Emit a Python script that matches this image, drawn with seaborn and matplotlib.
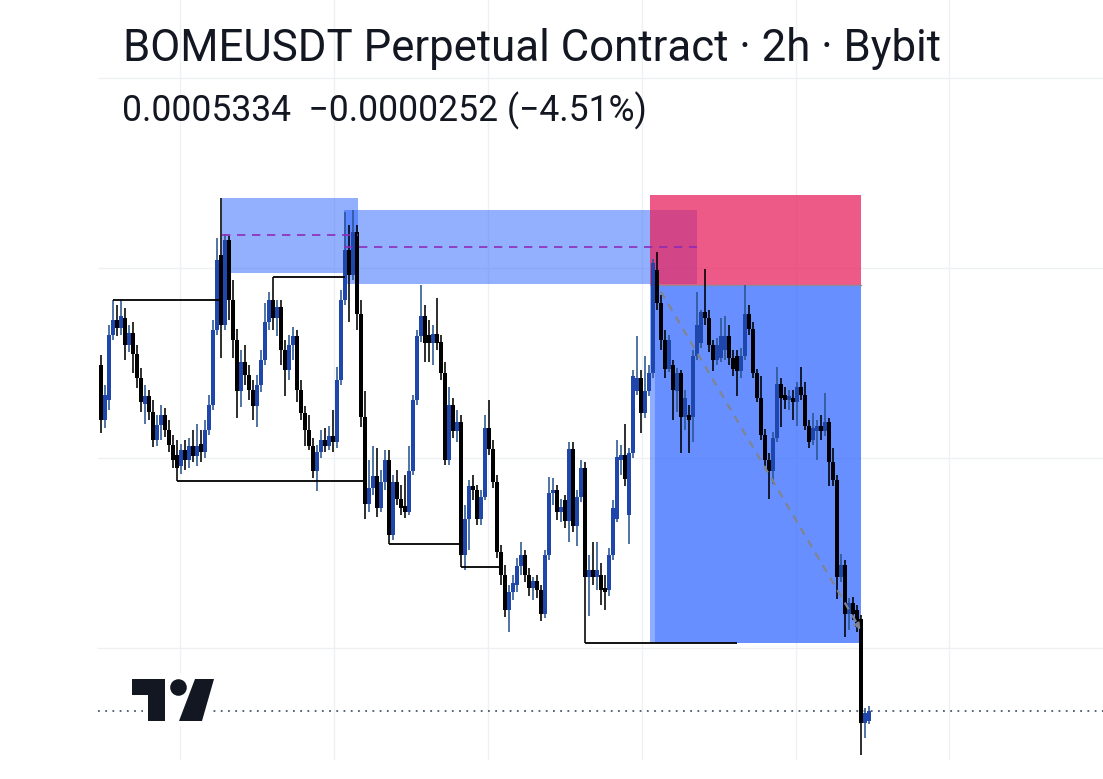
import matplotlib
matplotlib.use("Agg")
import matplotlib.pyplot as plt
import matplotlib.patches as mpatches
import seaborn as sns
import numpy as np
import pandas as pd

# BOMEUSDT 2h candles, prices in units of 1e-7 USDT
opens = [5698, 5640, 5661, 5729, 5745, 5737, 5747, 5719, 5732, 5709,
         5684, 5657, 5665, 5648, 5619, 5635, 5645, 5629, 5614, 5603,
         5591, 5608, 5598, 5613, 5602, 5615, 5606, 5629, 5656, 5735,
         5814, 5740, 5829, 5766, 5724, 5670, 5701, 5687, 5671, 5655,
         5677, 5703, 5743, 5766, 5747, 5759, 5714, 5693, 5719, 5728,
         5672, 5647, 5629, 5613, 5586, 5606, 5619, 5613, 5623, 5617,
         5682, 5766, 5819, 5793, 5838, 5751, 5643, 5552, 5568, 5581,
         5547, 5575, 5598, 5519, 5575, 5557, 5549, 5543, 5586, 5661,
         5728, 5749, 5729, 5721, 5730, 5722, 5689, 5598, 5656, 5628,
         5638, 5498, 5536, 5570, 5566, 5536, 5559, 5631, 5609, 5575,
         5501, 5477, 5440, 5459, 5466, 5486, 5498, 5477, 5463, 5470,
         5461, 5436, 5498, 5563, 5566, 5543, 5556, 5534, 5609, 5528,
         5559, 5589, 5475, 5482, 5475, 5477, 5463, 5461, 5498, 5536,
         5598, 5603, 5540, 5605, 5670, 5684, 5647, 5670, 5689, 5798,
         5763, 5724, 5694, 5698, 5670, 5689, 5643, 5645, 5643, 5707,
         5721, 5754, 5747, 5719, 5703, 5705, 5714, 5728, 5705, 5707,
         5691, 5707, 5751, 5736, 5689, 5663, 5624, 5598, 5586, 5621,
         5678, 5666, 5661,
         5663, 5659, 5675, 5666, 5634, 5619, 5628, 5634,
         5628, 5638, 5596, 5577, 5475, 5487, 5436, 5447, 5440, 5430, 5321, 5323]
highs = [5708, 5677, 5740, 5766, 5761, 5766, 5758, 5740, 5743, 5719,
         5695, 5677, 5671, 5661, 5645, 5656, 5653, 5640, 5624, 5619,
         5615, 5619, 5621, 5629, 5636, 5629, 5640, 5666, 5745, 5832,
         5874, 5836, 5834, 5787, 5736, 5714, 5719, 5698, 5682, 5687,
         5714, 5763, 5775, 5790, 5766, 5766, 5724, 5729, 5738, 5735,
         5682, 5655, 5645, 5621, 5614, 5629, 5632, 5634, 5650, 5696,
         5777, 5859, 5845, 5861, 5845, 5766, 5670, 5598, 5613, 5610,
         5587, 5608, 5608, 5582, 5587, 5571, 5582, 5613, 5666, 5735,
         5782, 5761, 5745, 5740, 5768, 5729, 5701, 5675, 5663, 5650,
         5645, 5550, 5577, 5582, 5571, 5566, 5645, 5661, 5619, 5582,
         5508, 5487, 5466, 5477, 5495, 5512, 5503, 5484, 5475, 5477,
         5466, 5503, 5580, 5579, 5571, 5557, 5561, 5617, 5617, 5566,
         5598, 5596, 5498, 5512, 5511, 5489, 5477, 5505, 5556, 5619,
         5614, 5636, 5610, 5693, 5728, 5693, 5707, 5698, 5809, 5817,
         5771, 5735, 5729, 5703, 5695, 5693, 5671, 5656, 5714, 5775,
         5756, 5799, 5756, 5724, 5726, 5747, 5749, 5740, 5714, 5714,
         5716, 5782, 5761, 5743, 5694, 5686, 5630, 5605, 5627, 5696,
         5684, 5675, 5671,
         5671, 5680, 5696, 5680, 5640, 5647, 5640, 5645,
         5668, 5642, 5610, 5582, 5499, 5493, 5453, 5454, 5445, 5435, 5337, 5339]
lows = [5626, 5632, 5650, 5724, 5728, 5729, 5703, 5711, 5689, 5674,
        5648, 5636, 5640, 5611, 5613, 5619, 5622, 5606, 5589, 5576,
        5583, 5587, 5589, 5596, 5591, 5596, 5600, 5624, 5650, 5729,
        5705, 5735, 5745, 5705, 5642, 5654, 5677, 5661, 5640, 5633,
        5669, 5698, 5735, 5735, 5728, 5698, 5665, 5682, 5703, 5659,
        5640, 5613, 5608, 5579, 5565, 5600, 5606, 5608, 5606, 5610,
        5677, 5761, 5743, 5787, 5735, 5633, 5536, 5543, 5561, 5538,
        5543, 5566, 5509, 5514, 5550, 5540, 5537, 5540, 5582, 5656,
        5722, 5701, 5701, 5698, 5714, 5682, 5593, 5593, 5621, 5617,
        5485, 5482, 5503, 5556, 5529, 5529, 5556, 5603, 5568, 5495,
        5466, 5433, 5417, 5450, 5459, 5477, 5469, 5455, 5450, 5453,
        5428, 5432, 5493, 5550, 5535, 5533, 5526, 5512, 5522, 5507,
        5554, 5405, 5434, 5466, 5461, 5445, 5440, 5455, 5493, 5533,
        5582, 5570, 5509, 5600, 5666, 5626, 5642, 5665, 5684, 5756,
        5714, 5684, 5690, 5640, 5648, 5605, 5629, 5605, 5617, 5703,
        5716, 5740, 5711, 5691, 5698, 5701, 5703, 5698, 5686, 5665,
        5684, 5703, 5729, 5684, 5659, 5619, 5591, 5557, 5573, 5617,
        5633, 5652, 5650,
        5640, 5634, 5661, 5629, 5610, 5614, 5598, 5619,
        5623, 5570, 5570, 5452, 5469, 5411, 5419, 5429, 5417, 5287, 5305, 5320]
closes = [5640, 5666, 5729, 5745, 5737, 5749, 5719, 5732, 5709, 5684,
          5659, 5665, 5648, 5619, 5635, 5645, 5629, 5614, 5598, 5589,
          5608, 5598, 5613, 5602, 5613, 5606, 5629, 5656, 5735, 5808,
          5740, 5829, 5766, 5724, 5670, 5701, 5687, 5671, 5655, 5677,
          5703, 5743, 5766, 5747, 5759, 5714, 5693, 5719, 5728, 5672,
          5647, 5629, 5613, 5586, 5606, 5619, 5613, 5623, 5617, 5682,
          5766, 5819, 5793, 5838, 5751, 5643, 5552, 5568, 5581, 5547,
          5575, 5598, 5519, 5575, 5557, 5547, 5543, 5586, 5661, 5728,
          5749, 5721, 5721, 5730, 5721, 5689, 5598, 5656, 5628, 5638,
          5498, 5536, 5570, 5566, 5536, 5559, 5631, 5609, 5575, 5501,
          5477, 5440, 5459, 5468, 5486, 5498, 5477, 5463, 5470, 5461,
          5436, 5498, 5563, 5566, 5543, 5548, 5534, 5609, 5528, 5559,
          5589, 5475, 5482, 5475, 5482, 5461, 5459, 5498, 5547, 5601,
          5603, 5578, 5605, 5686, 5684, 5647, 5670, 5689, 5805, 5763,
          5724, 5694, 5724, 5672, 5689, 5643, 5663, 5640, 5707, 5740,
          5754, 5747, 5719, 5703, 5719, 5728, 5728, 5705, 5694, 5691,
          5707, 5751, 5736, 5689, 5663, 5624, 5598, 5586, 5621, 5678,
          5663, 5661, 5665,
          5659, 5675, 5666, 5634, 5617, 5632, 5634, 5628,
          5638, 5596, 5577, 5475, 5487, 5436, 5447, 5436, 5422, 5321, 5331, 5334]

# swing levels: bar where the level starts, bar where it is broken
swing_start = [3, 43, 19, 72, 90, 121]
swing_end = [30, 61, 66, 90, 100, 159]
swing_kind = ['high', 'high', 'low', 'low', 'low', 'low']

# order blocks (bars, price 1e-7)
ob_left = [30.25, 60.75]
ob_right = [64.25, 149.0]
ob_top = [5874, 5861]
ob_bottom = [5795, 5783]

# short position tool
pos_left, pos_right = 137.25, 190.0
pos_stop, pos_entry, pos_target = 5877, 5782, 5405
proj_from = (140, 5775)
proj_to = (190.2, 5417)

last_price = 5334
price_grid = [0.00054, 0.00056, 0.00058, 0.00060]
time_grid = [19.75, 58.25, 96.75, 135.25, 173.75, 212.0]

unit = 1e-7
df = pd.DataFrame({'open': opens, 'high': highs, 'low': lows, 'close': closes}) * unit
df['bar'] = np.arange(len(df))
df['up'] = df['close'] >= df['open']

sns.set_theme(style='white')
plt.rcParams['font.family'] = ['Roboto', 'DejaVu Sans']

W, H = 1103, 779
fig = plt.figure(figsize=(W / 100, H / 100), dpi=100)
fig.patch.set_facecolor('white')
ax = fig.add_axes([98 / W, (H - 760) / H, (W - 98) / W, 760 / H])
ax.set_facecolor('white')

# pixel layout of the time / price scales
bar_px, first_px = 4.0, 101
ax.set_xlim((98 - first_px) / bar_px, (W - first_px) / bar_px)
ax.set_ylim((6082 - 1.0526 * 760) * unit, 6082 * unit)

ax.set_yticks(price_grid)
ax.set_xticks(time_grid)
ax.grid(True, color='#eef0f3', lw=1.0, zorder=0)
ax.tick_params(length=0, labelleft=False, labelbottom=False)
sns.despine(ax=ax, left=True, bottom=True)

# order blocks + mid lines
blue = (41 / 255, 98 / 255, 1.0)
for l, r, t, b in zip(ob_left, ob_right, ob_top, ob_bottom):
    ax.add_patch(mpatches.Rectangle((l, b * unit), r - l, (t - b) * unit,
                                    facecolor=blue, alpha=0.5, lw=0, zorder=1))
for l, r, t, b in zip(ob_left, ob_right, ob_top, ob_bottom):
    ax.plot([l, r], [(t + b) / 2 * unit] * 2, color='#8e2bb8', lw=1.2,
            dashes=(5, 4), zorder=5)

# position tool
ax.add_patch(mpatches.Rectangle((pos_left, pos_entry * unit), pos_right - pos_left,
                                (pos_stop - pos_entry) * unit,
                                facecolor=(232 / 255, 35 / 255, 95 / 255), alpha=0.75,
                                lw=0, zorder=2))
ax.add_patch(mpatches.Rectangle((pos_left, pos_target * unit), 1.3,
                                (pos_entry - pos_target) * unit,
                                facecolor=blue, alpha=0.52, lw=0, zorder=2))
ax.add_patch(mpatches.Rectangle((pos_left + 1.3, pos_target * unit), pos_right - pos_left - 1.3,
                                (pos_entry - pos_target) * unit,
                                facecolor=blue, alpha=0.71, lw=0, zorder=2))
ax.plot([pos_left, pos_right], [pos_entry * unit] * 2, color='#8a8d99', lw=1.0, zorder=2.5)

# candles
up_body, up_wick, dn = '#1f46aa', '#2a5590', '#000000'
wick_col = np.where(df['up'], up_wick, dn)
body_col = np.where(df['up'], up_body, dn)
ax.vlines(df['bar'], df['low'], df['high'], colors=wick_col, lw=1.15, zorder=3)
body_lo = df[['open', 'close']].min(axis=1)
body_h = (df['close'] - df['open']).abs().clip(lower=1.6 * unit)
ax.bar(df['bar'], body_h, bottom=body_lo, width=0.8, color=body_col, lw=0, zorder=3.5)

# swing lines
for s, e, k in zip(swing_start, swing_end, swing_kind):
    lvl = df['high'][s] if k == 'high' else df['low'][s]
    ax.plot([s, e], [lvl, lvl], color='black', lw=1.3, zorder=4, solid_capstyle='butt')

# projected path
ax.plot([proj_from[0], proj_to[0] - 0.8],
        [proj_from[1] * unit, (proj_to[1] + 6) * unit],
        color='#80848f', lw=1.6, dashes=(3.5, 3), zorder=4)
ax.annotate('', xy=(proj_to[0], proj_to[1] * unit),
            xytext=(proj_to[0] - 1.2, (proj_to[1] + 8) * unit),
            arrowprops=dict(arrowstyle='-|>', color='#80848f', lw=1.0,
                            mutation_scale=10), zorder=4)

# last price line
ax.axhline(last_price * unit, color='#4c5a70', lw=1.3, dashes=(1, 3), zorder=4)

# header text
fig.text(123 / W, 1 - 61 / H, 'BOMEUSDT Perpetual Contract · 2h · Bybit',
         fontsize=31.5, color='#131722', va='baseline', ha='left')
fig.text(122 / W, 1 - 121 / H, '0.0005334  \u22120.0000252 (\u22124.51%)',
         fontsize=25.6, color='#131722', va='baseline', ha='left')

# TradingView logo
lx = fig.add_axes([0, 0, 1, 1], facecolor='none')
lx.set_xlim(0, W)
lx.set_ylim(H, 0)
lx.axis('off')
lx.add_patch(mpatches.Rectangle((143, 673), 67, 53, facecolor='white', lw=0))
lx.add_patch(mpatches.Polygon([(132, 679), (165, 679), (165, 721), (148, 721),
                               (148, 695), (132, 695)], closed=True,
                              facecolor='#131722', lw=0))
lx.add_patch(mpatches.Circle((178.5, 687.5), 8.3, facecolor='#131722', lw=0))
lx.add_patch(mpatches.Polygon([(195, 679), (214, 679), (202, 721), (179, 721)],
                              closed=True, facecolor='#131722', lw=0))

fig.savefig('out.png', dpi=100, facecolor='white')
